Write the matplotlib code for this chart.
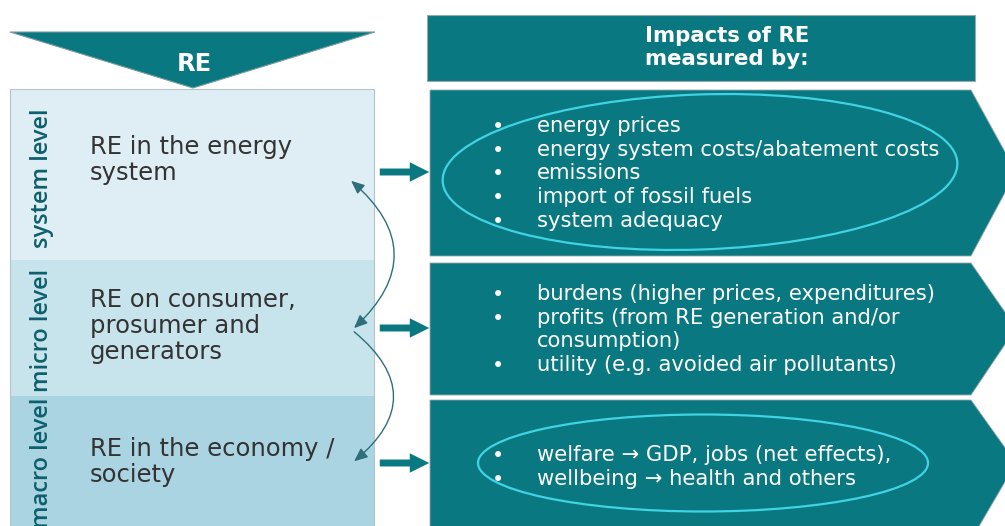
import matplotlib
matplotlib.use("Agg")
import matplotlib.pyplot as plt
from matplotlib.patches import Polygon, Rectangle, Ellipse, FancyArrowPatch

# ---- content ----
LEVEL_LABELS = ["system level", "micro level", "macro level"]
LEVEL_TEXTS = [
    ["RE in the energy", "system"],
    ["RE on consumer,", "prosumer and", "generators"],
    ["RE in the economy /", "society"],
]
HEADER_LEFT = "RE"
HEADER_RIGHT = ["Impacts of RE", "measured by:"]
IMPACTS_SYSTEM = [
    "energy prices",
    "energy system costs/abatement costs",
    "emissions",
    "import of fossil fuels",
    "system adequacy",
]
IMPACTS_MICRO = [
    "burdens (higher prices, expenditures)",
    "profits (from RE generation and/or",
    "consumption)",
    "utility (e.g. avoided air pollutants)",
]
MICRO_BULLETS = [True, True, False, True]
IMPACTS_MACRO = [
    "welfare \u2192 GDP, jobs (net effects),",
    "wellbeing \u2192 health and others",
]

# ---- layout (pixel coordinates, y downwards) ----
W, H = 1005, 526
TEAL = "#0a7880"
CYAN = "#3fd3e3"
BANDS = [(89, 260, "#dfeef4"), (260, 396, "#c7e3ec"), (396, 530, "#aad4e2")]
BOX_ROWS = [(90, 256, 172), (263, 395, 328), (400, 540, 463)]
BODY = ["DejaVu Sans"]
LABEL = ["Open Sans", "DejaVu Sans"]

fig = plt.figure(figsize=(W / 100, H / 100), dpi=100)
ax = fig.add_axes([0, 0, 1, 1])
ax.set_xlim(0, W)
ax.set_ylim(H, 0)
ax.axis("off")

# left header triangle
ax.add_patch(Polygon([(10, 32), (375, 32), (193, 88)], closed=True,
                     facecolor=TEAL, edgecolor="#7a9aa0", lw=0.8))
ax.text(194, 64, HEADER_LEFT, color="white", fontsize=17.5, fontweight="bold",
        ha="center", va="center", family=BODY)

# left stacked levels
for (y0, y1, col) in BANDS:
    ax.add_patch(Rectangle((10, y0), 364, y1 - y0, facecolor=col, edgecolor="none"))
ax.add_patch(Rectangle((10, 89), 364, 450, facecolor="none", edgecolor="#b5c4c8", lw=0.8))

label_y = [178, 330, 463]
text_y0 = [147, 300, 449]
for lab, ly, lines, ty in zip(LEVEL_LABELS, label_y, LEVEL_TEXTS, text_y0):
    ax.text(42, ly, lab, rotation=90, color="#0d5f6c", fontsize=17,
            fontweight="semibold", ha="center", va="center", family=LABEL)
    for i, ln in enumerate(lines):
        ax.text(90, ty + i * 26, ln, color="#333333", fontsize=17.5, ha="left",
                va="center", family=BODY)

# right header
ax.add_patch(Rectangle((427, 15), 548, 66, facecolor=TEAL, edgecolor="#9aa8aa", lw=0.8))
for i, ln in enumerate(HEADER_RIGHT):
    ax.text(727, 36 + i * 23, ln, color="white", fontsize=15.3, fontweight="bold",
            ha="center", va="center", family=BODY)

# right chevrons
for (y0, y1, yc) in BOX_ROWS:
    ax.add_patch(Polygon([(430, y0), (971, y0), (1016, yc), (971, y1), (430, y1)],
                         closed=True, facecolor=TEAL, edgecolor="#9aa8aa", lw=0.6))

# thick arrows between columns
for (_, _, yc) in BOX_ROWS:
    ax.add_patch(FancyArrowPatch((377, yc), (432, yc),
                                 arrowstyle="simple,head_width=14,head_length=14,tail_width=5",
                                 mutation_scale=1, color=TEAL, lw=0))

# thin curved arrows
ax.add_patch(FancyArrowPatch((352, 330), (349, 179), connectionstyle="arc3,rad=0.57",
                             arrowstyle="<|-|>,head_width=3.5,head_length=8", color="#2f6f7a", lw=1.0))
ax.add_patch(FancyArrowPatch((352, 330), (352, 463), connectionstyle="arc3,rad=-0.62",
                             arrowstyle="-|>,head_width=3.5,head_length=8", color="#2f6f7a", lw=1.0))


# bullet lists
def bullets(lines, y_first, flags=None, x_b=498, x_t=537, step=23.7):
    flags = flags or [True] * len(lines)
    for i, (ln, fl) in enumerate(zip(lines, flags)):
        y = y_first + i * step
        if fl:
            ax.text(x_b, y + 1, "\u2022", color="white", fontsize=15, ha="center",
                    va="center", family=BODY)
        ax.text(x_t, y, ln, color="white", fontsize=15.2, ha="left", va="center",
                family=BODY)


bullets(IMPACTS_SYSTEM, 126)
bullets(IMPACTS_MICRO, 294, MICRO_BULLETS)
bullets(IMPACTS_MACRO, 455)

# highlight ellipses
ax.add_patch(Ellipse((700, 172), 515, 155, angle=-2, facecolor="none", edgecolor=CYAN, lw=1.6))
ax.add_patch(Ellipse((703, 463), 450, 97, facecolor="none", edgecolor=CYAN, lw=1.6))

fig.savefig("out.png", dpi=100, facecolor="white")
